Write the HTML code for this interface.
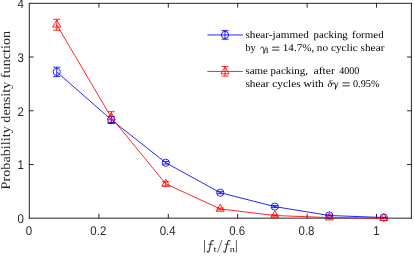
<!DOCTYPE html>
<html><head><meta charset="utf-8"><title>plot</title>
<style>html,body{margin:0;padding:0;background:#fff;}svg{display:block;will-change:transform;}text{font-family:"Liberation Sans",sans-serif;text-rendering:geometricPrecision;}.s{font-family:"Liberation Serif",serif;text-rendering:geometricPrecision;}</style>
</head><body>
<svg width="415" height="263" viewBox="0 0 415 263">
<rect x="0" y="0" width="415" height="263" fill="#ffffff"/>
<g stroke="#262626" stroke-width="1" fill="none" stroke-linecap="square">
<path d="M29.3 3.35V218.15"/><path d="M29.3 218.15H411.4"/><path d="M411.4 218.15V3.35"/><path d="M411.4 3.35H29.3"/>
<path d="M98.90 218.15v-3.8M98.90 3.35v3.8"/>
<path d="M168.30 218.15v-3.8M168.30 3.35v3.8"/>
<path d="M237.70 218.15v-3.8M237.70 3.35v3.8"/>
<path d="M307.10 218.15v-3.8M307.10 3.35v3.8"/>
<path d="M376.50 218.15v-3.8M376.50 3.35v3.8"/>
<path d="M29.3 164.54h3.8M411.4 164.54h-3.8"/>
<path d="M29.3 110.78h3.8M411.4 110.78h-3.8"/>
<path d="M29.3 57.02h3.8M411.4 57.02h-3.8"/>
</g>
<g fill="#262626" font-size="12.6" text-anchor="middle">
<text x="28.90" y="235.35" textLength="6.38" lengthAdjust="spacingAndGlyphs">0</text>
<text x="98.30" y="235.35" textLength="15.94" lengthAdjust="spacingAndGlyphs">0.2</text>
<text x="167.70" y="235.35" textLength="15.94" lengthAdjust="spacingAndGlyphs">0.4</text>
<text x="237.10" y="235.35" textLength="15.94" lengthAdjust="spacingAndGlyphs">0.6</text>
<text x="306.50" y="235.35" textLength="15.94" lengthAdjust="spacingAndGlyphs">0.8</text>
<text x="376.40" y="235.35" textLength="6.38" lengthAdjust="spacingAndGlyphs">1</text>
</g>
<g fill="#262626" font-size="12.6" text-anchor="end">
<text x="24.0" y="223.05" textLength="6.38" lengthAdjust="spacingAndGlyphs">0</text>
<text x="24.0" y="169.29" textLength="6.38" lengthAdjust="spacingAndGlyphs">1</text>
<text x="24.0" y="115.53" textLength="6.38" lengthAdjust="spacingAndGlyphs">2</text>
<text x="24.0" y="61.77" textLength="6.38" lengthAdjust="spacingAndGlyphs">3</text>
<text x="24.0" y="8.01" textLength="6.38" lengthAdjust="spacingAndGlyphs">4</text>
</g>
<g stroke="#0000ff" stroke-width="0.85" fill="none">
<polyline points="56.75,71.90 111.26,119.70 165.77,162.75 220.27,192.70 274.78,206.60 329.29,215.50 383.79,217.50"/>
<path d="M56.75 67.20V76.60M53.25 67.20h7M53.25 76.60h7"/>
<circle cx="56.75" cy="71.90" r="3.6"/>
<path d="M111.26 116.30V123.10M107.76 116.30h7M107.76 123.10h7"/>
<circle cx="111.26" cy="119.70" r="3.6"/>
<path d="M165.77 161.45V164.05M162.27 161.45h7M162.27 164.05h7"/>
<circle cx="165.77" cy="162.75" r="3.6"/>
<path d="M220.27 191.70V193.70M216.77 191.70h7M216.77 193.70h7"/>
<circle cx="220.27" cy="192.70" r="3.6"/>
<path d="M274.78 205.60V207.60M271.28 205.60h7M271.28 207.60h7"/>
<circle cx="274.78" cy="206.60" r="3.6"/>
<path d="M329.29 215.00V216.00M325.79 215.00h7M325.79 216.00h7"/>
<circle cx="329.29" cy="215.50" r="3.6"/>
<path d="M383.79 217.25V217.75M380.29 217.25h7M380.29 217.75h7"/>
<circle cx="383.79" cy="217.50" r="3.6"/>
</g>
<g stroke="#ff0000" stroke-width="0.85" fill="none">
<polyline points="56.75,24.75 111.26,117.40 165.77,183.90 220.27,208.90 274.78,215.50 329.29,217.60 383.79,218.30"/>
<path d="M56.75 19.25V30.25M53.25 19.25h7M53.25 30.25h7"/>
<path d="M56.75 20.08L60.80 27.08H52.70Z"/>
<path d="M111.26 111.70V123.10M107.76 111.70h7M107.76 123.10h7"/>
<path d="M111.26 112.73L115.31 119.73H107.21Z"/>
<path d="M165.77 181.70V186.10M162.27 181.70h7M162.27 186.10h7"/>
<path d="M165.77 179.23L169.82 186.23H161.72Z"/>
<path d="M220.27 208.00V209.80M216.77 208.00h7M216.77 209.80h7"/>
<path d="M220.27 204.23L224.32 211.23H216.22Z"/>
<path d="M274.78 214.80V216.20M271.28 214.80h7M271.28 216.20h7"/>
<path d="M274.78 210.83L278.83 217.83H270.73Z"/>
<path d="M329.29 217.35V217.85M325.79 217.35h7M325.79 217.85h7"/>
<path d="M329.29 212.93L333.34 219.93H325.24Z"/>
<path d="M383.79 218.15V218.45M380.29 218.15h7M380.29 218.45h7"/>
<path d="M383.79 213.63L387.84 220.63H379.74Z"/>
</g>
<g stroke="#0000ff" stroke-width="0.85" fill="none"><path d="M107.76 123.10h7"/><path d="M108.71 122.25A3.6 3.6 0 0 0 113.81 122.25"/></g>
<g stroke="#0000ff" stroke-width="0.85" fill="none">
<path d="M207.4 34.95H242.8M225 30.6V39.25M221.5 30.6h7M221.5 39.25h7"/><circle cx="225.00" cy="34.95" r="3.6"/>
</g>
<g stroke="#ff0000" stroke-width="0.85" fill="none">
<path d="M207.4 71.45H242.8M225 66.6V76.0M221.5 66.6h7M221.5 76.0h7"/><path d="M225.00 66.78L229.05 73.78H220.95Z"/>
</g>
<g fill="#000" font-size="10.2">
<text class="s" x="245.4" y="38.1" textLength="63.4" lengthAdjust="spacingAndGlyphs">shear-jammed</text>
<text class="s" x="313.5" y="38.1" textLength="34.2" lengthAdjust="spacingAndGlyphs">packing</text>
<text class="s" x="352.0" y="38.1" textLength="31.6" lengthAdjust="spacingAndGlyphs">formed</text>
<text class="s" x="245.4" y="51.3" textLength="10.2" lengthAdjust="spacingAndGlyphs">by</text>
<g transform="translate(260.4 51.3) scale(1.12 1)" stroke="#000" fill="none" stroke-linecap="round"><path d="M0.3 -3.1C0.7 -4.3 1.7 -4.8 2.4 -4.0C3.1 -3.1 3.3 -0.6 3.1 1.9" stroke-width="0.8"/><path d="M5.3 -4.4C4.8 -2.6 3.8 -0.2 3.1 1.9" stroke-width="0.6"/></g>
<text class="s" x="265.8" y="52.9" textLength="2.9" lengthAdjust="spacingAndGlyphs" font-size="7.2">I</text>
<path d="M272.1 47.15h7.3M272.1 50.05h7.3" stroke="#000" stroke-width="0.8" fill="none"/>
<text class="s" x="282.8" y="51.3" textLength="31.5" lengthAdjust="spacingAndGlyphs">14.7%,</text>
<text class="s" x="316.8" y="51.3" textLength="67.6" lengthAdjust="spacingAndGlyphs">no cyclic shear</text>
<text class="s" x="245.4" y="74.05" textLength="62.6" lengthAdjust="spacingAndGlyphs">same packing,</text>
<text class="s" x="313.6" y="74.05" textLength="21.2" lengthAdjust="spacingAndGlyphs">after</text>
<text class="s" x="339.2" y="74.05" textLength="20.0" lengthAdjust="spacingAndGlyphs">4000</text>
<text class="s" x="245.4" y="87.1" textLength="78.4" lengthAdjust="spacingAndGlyphs">shear cycles with</text>
<text class="s" x="327.4" y="87.1" textLength="4.8" lengthAdjust="spacingAndGlyphs" font-style="italic">δ</text>
<g transform="translate(332.0 87.1) scale(1.12 1)" stroke="#000" fill="none" stroke-linecap="round"><path d="M0.3 -3.1C0.7 -4.3 1.7 -4.8 2.4 -4.0C3.1 -3.1 3.3 -0.6 3.1 1.9" stroke-width="0.8"/><path d="M5.3 -4.4C4.8 -2.6 3.8 -0.2 3.1 1.9" stroke-width="0.6"/></g>
<path d="M342.4 82.95h7.3M342.4 85.85h7.3" stroke="#000" stroke-width="0.8" fill="none"/>
<text class="s" x="353.0" y="87.1" textLength="26.4" lengthAdjust="spacingAndGlyphs">0.95%</text>
</g>
<text class="s" fill="#262626" font-size="13.1" text-anchor="middle" transform="translate(9.8 110.1) rotate(-90)" textLength="158.6" lengthAdjust="spacingAndGlyphs">Probability density function</text>
<g stroke="#262626" stroke-width="0.7" fill="none"><path d="M204.5 239.9V252.6M236.4 239.9V252.6M217.5 252.6L222 240"/></g>
<g transform="translate(0 0)" stroke="#262626" fill="none" stroke-linecap="round"><path d="M207.1 251.2C207.3 252.5 208.7 252.7 209.1 250.8L210.9 242.6C211.3 240.7 212.3 240 213.6 240.9" stroke-width="1.05"/><path d="M208.6 244.3H212.9" stroke-width="0.7"/></g>
<g transform="translate(16.55 0)" stroke="#262626" fill="none" stroke-linecap="round"><path d="M207.1 251.2C207.3 252.5 208.7 252.7 209.1 250.8L210.9 242.6C211.3 240.7 212.3 240 213.6 240.9" stroke-width="1.05"/><path d="M208.6 244.3H212.9" stroke-width="0.7"/></g>
<g fill="#262626">
<text class="s" x="213.5" y="251.7" textLength="3.0" lengthAdjust="spacingAndGlyphs" font-size="8.6">t</text>
<text class="s" x="229.8" y="251.7" textLength="5.1" lengthAdjust="spacingAndGlyphs" font-size="8.6">n</text>
</g>
</svg>
</body></html>
